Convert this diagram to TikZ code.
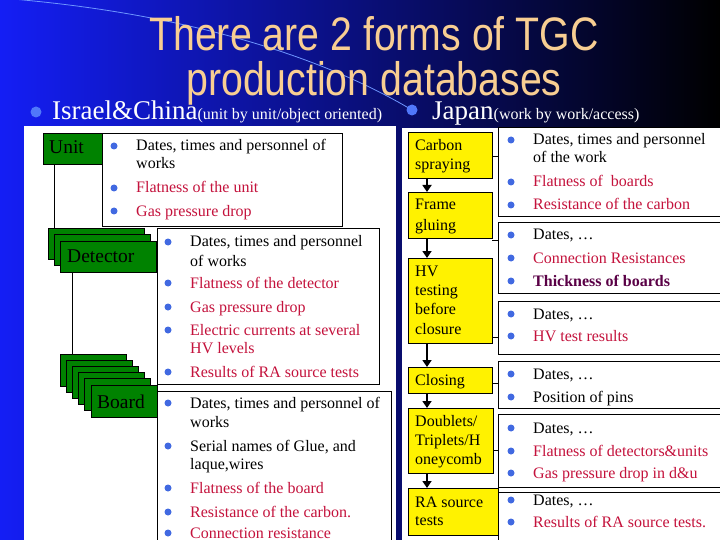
\documentclass[tikz,border=0pt]{standalone}
\usepackage{fontspec}
\setmainfont{Liberation Serif}
\newfontfamily\titlefont{Liberation Sans}
\usetikzlibrary{arrows.meta}
\definecolor{bgl}{RGB}{20,30,245}
\definecolor{bgm}{RGB}{0,0,150}
\definecolor{bgr}{RGB}{0,0,0}
\definecolor{ttl}{RGB}{248,206,146}
\definecolor{crim}{RGB}{196,18,60}
\definecolor{purp}{RGB}{90,0,70}
\definecolor{bdot}{RGB}{65,105,225}
\definecolor{bbig}{RGB}{80,120,250}
\definecolor{gbox}{RGB}{0,130,0}
\definecolor{arcc}{RGB}{110,150,255}
\newcommand\bitem[5][]{%
  \node[bul] (#2-dot) at (#3-22,#4-5) {};
  \node[txt,#1] (#2) at (#3,#4) {#5};}
\newcommand\tline[5][]{\node[txt,#1] (#2) at (#3,#4) {#5};}
\tikzset{
  txt/.style={anchor=base west, inner sep=0, font=\fontsize{16}{19}\selectfont},
  rtx/.style={text=crim},
  ptx/.style={text=purp, font=\fontsize{16}{19}\selectfont\bfseries},
  bul/.style={circle, fill=bdot, inner sep=0, minimum size=7pt},
  bigbul/.style={circle, fill=bbig, inner sep=0, minimum size=11pt},
  boxbase/.style={draw=black, line width=0.8pt, anchor=north west, inner sep=0, outer sep=0},
  gbx/.style={boxbase, fill=gbox},
  wbx/.style={boxbase, fill=white},
  ybx/.style={boxbase, fill=yellow},
  lbl/.style={anchor=base west, inner sep=0, font=\fontsize{19.5}{20}\selectfont},
  ttlnode/.style={anchor=base, inner sep=0, text=ttl, font=\titlefont\fontsize{47}{47}\selectfont},
  arr/.style={line width=2.6pt, -{Triangle[length=7pt,width=9pt]}},
  con/.style={line width=0.8pt},
}
\begin{document}
\begin{tikzpicture}[x=1pt,y=-1pt]
\useasboundingbox (0,0) rectangle (720,540);
\clip (0,0) rectangle (720,540);
% background
\shade[left color=bgl, middle color=bgm, right color=bgr] (0,0) rectangle (720,540);
\draw[arcc, line width=0.8pt] (0,-2) .. controls (180,12) and (320,55) .. (412,110);
% title
\node[ttlnode] (title1) at (374,51) {\scalebox{0.835}[1]{There are 2 forms of TGC}};
\node[ttlnode] (title2) at (374,96) {\scalebox{0.835}[1]{production databases}};
% level-1 bullets
\node[bigbul] (isrdot) at (36,112) {};
\node[anchor=base west, inner sep=0, text=white, font=\fontsize{27}{27}\selectfont] (isr) at (52,120)
  {Israel\&China{\fontsize{16}{16}\selectfont(unit by unit/object oriented)}};
\node[bigbul] (jpdot) at (412,110) {};
\node[anchor=base west, inner sep=0, text=white, font=\fontsize{27}{27}\selectfont] (jp) at (432,120)
  {Japan{\fontsize{16}{16}\selectfont(work by work/access)}};
% panels
\fill[white] (24,126) rectangle (396,540);
\fill[white] (402,128) rectangle (720,540);
% ---------- left panel ----------
\coordinate (lx1) at (54,0);
\coordinate (lx2) at (72,0);
\node[gbx, minimum width=59pt, minimum height=31pt] (unit) at (43,133) {};
\node[wbx, minimum width=240pt, minimum height=93pt] (unitinfo) at (102,133) {};
\node[lbl] (unitlbl) at (49,154) {Unit};
\bitem{u1}{136}{151}{Dates, times and personnel of}
\tline{u1b}{136}{169}{works}
\bitem[rtx]{u2}{136}{193}{Flatness of the unit}
\bitem[rtx]{u3}{136}{216}{Gas pressure drop}
\node[gbx, minimum width=96pt, minimum height=31pt] (det1) at (48,228) {};
\node[gbx, minimum width=96pt, minimum height=31pt] (det2) at (54,234.5) {};
\node[gbx, minimum width=96pt, minimum height=31pt] (det3) at (60,241) {};
\node[lbl] (detlbl) at (67,262) {Detector};
\draw[con] (unit.south -| lx1) -- (det1.north -| lx1);
\node[wbx, minimum width=222pt, minimum height=156pt] (detinfo) at (157,228) {};
\bitem{d1}{190}{247}{Dates, times and personnel}
\tline{d1b}{190}{266}{of works}
\bitem[rtx]{d2}{190}{288}{Flatness of the detector}
\bitem[rtx]{d3}{190}{312}{Gas pressure drop}
\bitem[rtx]{d4}{190}{335}{Electric currents at several}
\tline[rtx]{d4b}{190}{353}{HV levels}
\bitem[rtx]{d5}{190}{377}{Results of RA source tests}
\node[gbx, minimum width=66pt, minimum height=32pt] (brd1) at (60,354) {};
\node[gbx, minimum width=66pt, minimum height=32pt] (brd2) at (66.2,360.2) {};
\node[gbx, minimum width=66pt, minimum height=32pt] (brd3) at (72.4,366.4) {};
\node[gbx, minimum width=66pt, minimum height=32pt] (brd4) at (78.6,372.6) {};
\node[gbx, minimum width=66pt, minimum height=32pt] (brd5) at (84.8,378.8) {};
\node[gbx, minimum width=66pt, minimum height=32pt] (brd6) at (91,385) {};
\node[lbl] (brdlbl) at (97,408) {Board};
\draw[con] (det3.south -| lx2) -- (brd1.north -| lx2);
\node[wbx, minimum width=234pt, minimum height=170pt] (brdinfo) at (157,391) {};
\bitem{b1}{190}{408}{Dates, times and personnel of}
\tline{b1b}{190}{427}{works}
\bitem{b2}{190}{451}{Serial names of Glue, and}
\tline{b2b}{190}{469}{laque,wires}
\bitem[rtx]{b3}{190}{493}{Flatness of the board}
\bitem[rtx]{b4}{190}{517}{Resistance of the carbon.}
\bitem[rtx]{b5}{190}{538}{Connection resistance}
% ---------- right panel ----------
\coordinate (ax) at (427,0);
\node[ybx, minimum width=84pt, minimum height=46pt] (cs) at (408,132) {};
\node[ybx, minimum width=84pt, minimum height=46pt] (fg) at (408,192) {};
\node[ybx, minimum width=84pt, minimum height=85pt] (hv) at (408,258) {};
\node[ybx, minimum width=84pt, minimum height=26pt] (cl) at (408,367) {};
\node[ybx, minimum width=85pt, minimum height=65pt] (db) at (408,408) {};
\node[ybx, minimum width=90pt, minimum height=47pt] (ra) at (408,488) {};
\draw[arr] (cs.south -| ax) -- (fg.north -| ax);
\draw[arr] (fg.south -| ax) -- (hv.north -| ax);
\draw[arr] (hv.south -| ax) -- (cl.north -| ax);
\draw[arr] (cl.south -| ax) -- (db.north -| ax);
\draw[arr] (db.south -| ax) -- (ra.north -| ax);
\tline{y1}{415}{151}{Carbon}
\tline{y2}{415}{170}{spraying}
\tline{y3}{415}{210}{Frame}
\tline{y4}{415}{230}{gluing}
\tline{y5}{415}{276}{HV}
\tline{y6}{415}{295}{testing}
\tline{y7}{415}{314}{before}
\tline{y8}{415}{334}{closure}
\tline{y9}{415}{385}{Closing}
\tline{y10}{415}{426}{Doublets/}
\tline{y11}{415}{445}{Triplets/H}
\tline{y12}{415}{464}{oneycomb}
\tline{y13}{415}{507}{RA source}
\tline{y14}{415}{525}{tests}
\node[wbx, minimum width=230pt, minimum height=89pt] (i1) at (498,127) {};
\node[wbx, minimum width=230pt, minimum height=71pt] (i2) at (498,222) {};
\node[wbx, minimum width=230pt, minimum height=53pt] (i3) at (498,301) {};
\node[wbx, minimum width=230pt, minimum height=47pt] (i4) at (498,361) {};
\node[wbx, minimum width=230pt, minimum height=73pt] (i5) at (498,414) {};
\node[wbx, minimum width=230pt, minimum height=60pt] (i6) at (498,492) {};
\coordinate (c1) at (0,156);
\coordinate (c2) at (0,240);
\coordinate (c3) at (0,337);
\coordinate (c4) at (0,383);
\coordinate (c5) at (0,450);
\draw[con] (cs.east |- c1) -- (i1.west |- c1);
\draw[con] (fg.east |- c2) -- (i2.west |- c2);
\draw[con] (hv.east |- c3) -- (i3.west |- c3);
\draw[con] (cl.east |- c4) -- (i4.west |- c4);
\draw[con] (db.east |- c5) -- (i5.west |- c5);
\bitem{j1}{533}{145}{Dates, times and personnel}
\tline{j1b}{533}{163}{of the work}
\bitem[rtx]{j2}{533}{187}{Flatness of~ boards}
\bitem[rtx]{j3}{533}{210}{Resistance of the carbon}
\bitem{j4}{533}{240}{Dates, …}
\bitem[rtx]{j5}{533}{263}{Connection Resistances}
\bitem[ptx]{j6}{533}{286}{Thickness of boards}
\bitem{j7}{533}{319}{Dates, …}
\bitem[rtx]{j8}{533}{341}{HV test results}
\bitem{j9}{533}{379}{Dates, …}
\bitem{j10}{533}{402}{Position of pins}
\bitem{j11}{533}{433}{Dates, …}
\bitem[rtx]{j12}{533}{456}{Flatness of detectors\&units}
\bitem[rtx]{j13}{533}{478}{Gas pressure drop in d\&u}
\bitem{j14}{533}{505}{Dates, …}
\bitem[rtx]{j15}{533}{527}{Results of RA source tests.}
\end{tikzpicture}
\end{document}
